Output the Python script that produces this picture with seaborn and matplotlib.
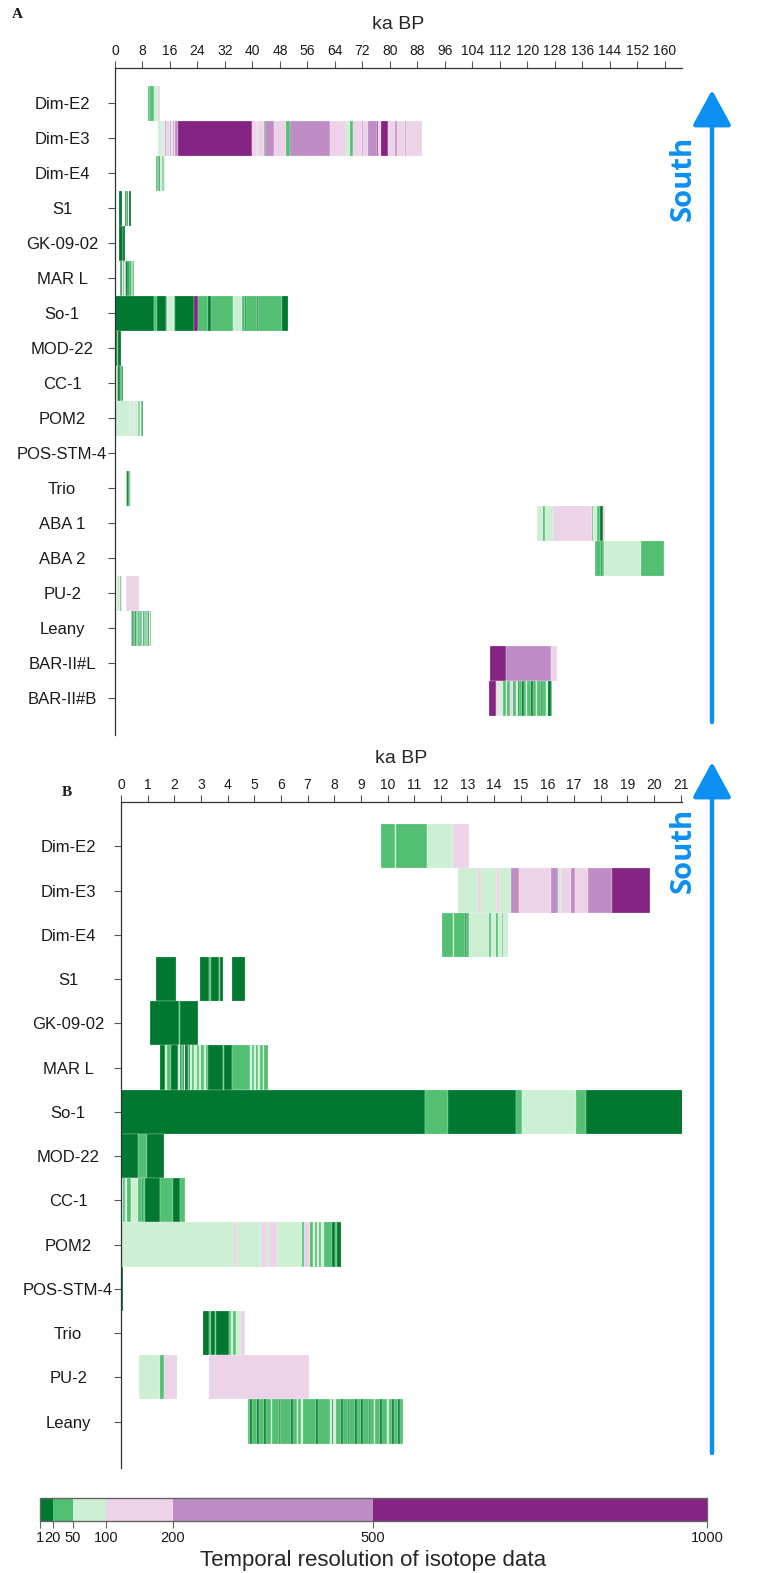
import numpy as np
import pandas as pd
import matplotlib
matplotlib.use("Agg")
import matplotlib.pyplot as plt
import matplotlib as mpl
from matplotlib import font_manager
from matplotlib.colors import ListedColormap, BoundaryNorm
from matplotlib.patches import FancyArrowPatch
import seaborn as sns

# ---------------- data ----------------
# resolution classes (years): 1-20, 20-50, 50-100, 100-200, 200-500, 500-1000
res_bounds = [1, 20, 50, 100, 200, 500, 1000]
res_colors = ["#00782F", "#52BF73", "#CDEFD4", "#EDD3E8", "#BE8DC6", "#852482"]

rows_a = ["Dim-E2", "Dim-E3", "Dim-E4", "S1", "GK-09-02", "MAR L", "So-1", "MOD-22",
          "CC-1", "POM2", "POS-STM-4", "Trio", "ABA 1", "ABA 2", "PU-2", "Leany",
          "BAR-II#L", "BAR-II#B"]
rows_b = ["Dim-E2", "Dim-E3", "Dim-E4", "S1", "GK-09-02", "MAR L", "So-1", "MOD-22",
          "CC-1", "POM2", "POS-STM-4", "Trio", "PU-2", "Leany"]

ticks_a = list(range(0, 161, 8))
ticks_b = list(range(0, 22, 1))

# panel B shows Dim-E3 only up to this age (ka)
dim_e3_b_end = 19.85

# segment edges (ka BP) and resolution class per segment (None = gap)
dim_e2_edges = [9.74, 10.29, 10.33, 11.49, 12.45, 13.05]
dim_e2_cls = [1, 2, 1, 2, 3]

dim_e3_edges = [12.63, 13.38, 13.51, 14.09, 14.22, 14.63, 14.92, 16.14, 16.40, 16.50,
                16.87, 17.03, 17.52, 18.41, 39.8, 41.2, 41.5, 43.4, 43.7, 46.4, 49.9,
                51.0, 62.7, 67.3, 68.5, 69.3, 71.9, 72.3, 73.6, 76.1, 76.6, 77.5, 79.4,
                81.6, 82.0, 84.3, 84.7, 89.4]
dim_e3_cls = [2, 3, 2, 3, 2, 4, 3, 4, 2, 3, 4, 3, 4, 5, 3, 2, 3, 1, 4, 3, 1, 4, 3, 2,
              1, 3, 4, 3, 4, 5, 3, 5, 3, 4, 3, 4, 3]

dim_e4_edges = [12.05, 12.45, 12.50, 12.90, 12.96, 13.05, 13.82, 13.88, 14.07, 14.13,
                14.28, 14.35, 14.53]
dim_e4_cls = [1, 2, 1, 0, 1, 2, 1, 2, 1, 2, 1, 2]

s1_edges = [1.30, 2.06, 2.96, 3.32, 3.36, 3.67, 3.71, 3.81, 4.18, 4.67]
s1_cls = [0, None, 0, 1, 0, 1, 0, None, 0]

gk_edges = [1.10, 2.19, 2.23, 2.90]
gk_cls = [0, 1, 0]

marl_edges = [1.47, 1.65, 1.72, 1.87, 2.15, 2.20, 2.27, 2.31, 2.37, 2.42, 2.50, 2.54,
              2.58, 2.68, 2.75, 2.85, 2.92, 3.02, 3.10, 3.20, 3.27, 3.84, 3.88, 4.18,
              4.83, 4.90, 4.98, 5.05, 5.15, 5.22, 5.32, 5.38, 5.52]
marl_cls = [0, 2, 1, 0, 2, 0, 1, 0, 2, 0, 1, 0, 2, 1, 2, 1, 2, 1, 2, 1, 0, 1, 0, 1,
            2, 1, 2, 1, 2, 1, 2, 1]

so1_edges = [0, 11.39, 12.28, 14.81, 15.06, 17.08, 17.44, 23.0, 24.1, 27.0, 27.9, 34.3,
             37.1, 37.8, 38.0, 41.3, 41.7, 48.6, 50.2]
so1_cls = [0, 1, 0, 1, 2, 1, 0, 5, 1, 0, 1, 2, 1, 0, 1, 0, 1, 0]

mod22_edges = [0, 0.62, 0.96, 1.62]
mod22_cls = [0, 1, 0]

cc1_edges = [0, 0.04, 0.09, 0.15, 0.21, 0.37, 0.62, 0.77, 0.84, 0.91, 1.48, 1.94, 2.21, 2.40]
cc1_cls = [1, 2, 1, 2, 1, 2, 1, 0, 1, 0, 1, 0, 1]

pom2_edges = [0, 4.25, 4.36, 5.24, 5.44, 5.55, 5.87, 6.78, 6.88, 7.11, 7.20, 7.28, 7.36,
              7.44, 7.52, 7.61, 7.93, 8.03, 8.10, 8.24]
pom2_cls = [2, 3, 2, 3, 2, 3, 2, 1, 3, 1, 2, 1, 2, 1, 2, 1, 0, 1, 0]

posstm_edges = [0, 0.06]
posstm_cls = [0]

trio_edges = [3.06, 3.32, 3.36, 3.52, 3.56, 4.04, 4.11, 4.19, 4.33, 4.52, 4.66]
trio_cls = [0, 1, 0, 1, 0, 1, 2, 1, 2, 3]

aba1_edges = [122.9, 124.6, 125.0, 127.5, 138.8, 139.2, 140.2, 141.2, 142.1, 142.6]
aba1_cls = [2, 1, 2, 3, 1, 2, 1, 0, 3]

aba2_edges = [139.8, 141.4, 141.8, 142.2, 153.1, 159.9]
aba2_cls = [1, 0, 1, 2, 1]

pu2_edges = [0.68, 1.47, 1.63, 2.09, 3.30, 7.06]
pu2_cls = [2, 1, 3, None, 3]

leany_edges = [4.77, 4.83, 4.92, 5.09, 5.18, 5.38, 5.44, 5.62, 5.67, 5.91, 5.98, 6.39,
               6.45, 6.59, 6.65, 6.76, 6.82, 7.31, 7.38, 7.83, 7.90, 7.97, 8.06, 8.26,
               8.32, 8.51, 8.56, 8.79, 8.86, 9.01, 9.07, 9.30, 9.36, 9.48, 9.54, 9.73,
               9.79, 9.99, 10.05, 10.16, 10.23, 10.38, 10.48, 10.59]
leany_cls = [1, 0, 1, 0, 1, 0, 1, 2, 1, 0, 1, 0, 1, 2, 1, 2, 1, 0, 1, 2, 0, 2, 1, 0,
             1, 0, 1, 0, 1, 0, 1, 0, 1, 2, 1, 0, 1, 2, 1, 0, 1, 0, 1]

barl_edges = [109.1, 113.9, 127.0, 128.5]
barl_cls = [5, 4, 3]

barb_edges = [108.7, 110.8, 111.5, 112.0, 112.4, 113.0, 113.7, 114.2, 115.0, 115.7,
              116.6, 117.3, 117.7, 118.3, 119.0, 119.6, 120.0, 121.0, 121.5, 122.4,
              122.9, 123.9, 124.4, 125.4, 125.9, 126.8, 127.3]
barb_cls = [5, 3, 2, 3, 2, 1, 2, 1, 3, 1, 2, 0, 1, 0, 1, 2, 1, 0, 1, 2, 1, 0, 1, 2, 0, 1]

core_data = {
    "Dim-E2": (dim_e2_edges, dim_e2_cls), "Dim-E3": (dim_e3_edges, dim_e3_cls),
    "Dim-E4": (dim_e4_edges, dim_e4_cls), "S1": (s1_edges, s1_cls),
    "GK-09-02": (gk_edges, gk_cls), "MAR L": (marl_edges, marl_cls),
    "So-1": (so1_edges, so1_cls), "MOD-22": (mod22_edges, mod22_cls),
    "CC-1": (cc1_edges, cc1_cls), "POM2": (pom2_edges, pom2_cls),
    "POS-STM-4": (posstm_edges, posstm_cls), "Trio": (trio_edges, trio_cls),
    "ABA 1": (aba1_edges, aba1_cls), "ABA 2": (aba2_edges, aba2_cls),
    "PU-2": (pu2_edges, pu2_cls), "Leany": (leany_edges, leany_cls),
    "BAR-II#L": (barl_edges, barl_cls), "BAR-II#B": (barb_edges, barb_cls),
}

recs = []
for core, (edges, cls) in core_data.items():
    for i, c in enumerate(cls):
        if c is None:
            continue
        recs.append(dict(core=core, start=edges[i], end=edges[i + 1], cls=c))
segs = pd.DataFrame(recs)

# ---------------- style ----------------
sns.set_theme(style="ticks")
plt.rcParams['font.family'] = ['Liberation Sans', 'DejaVu Sans']
plt.rcParams['axes.edgecolor'] = '#333333'
plt.rcParams['text.color'] = '#1a1a1a'
plt.rcParams['xtick.color'] = '#555555'
plt.rcParams['ytick.color'] = '#555555'
plt.rcParams['xtick.labelcolor'] = '#1a1a1a'
plt.rcParams['ytick.labelcolor'] = '#1a1a1a'

installed = {f.name for f in font_manager.fontManager.ttflist}
narrow = 'Liberation Sans Narrow' if 'Liberation Sans Narrow' in installed else 'Liberation Sans'
num_size = 11 if narrow == 'Liberation Sans Narrow' else 10

palette = sns.color_palette(res_colors)

W, H = 758, 1573
fig = plt.figure(figsize=(W / 100, H / 100), dpi=100)


def rect(l, t, r, b):
    return [l / W, 1 - b / H, (r - l) / W, (b - t) / H]


def draw_panel(ax, rows, xmax, ticks, clip=None):
    ypos = {r: i for i, r in enumerate(rows)}
    s = segs[segs.core.isin(rows)].copy()
    if clip:
        for core, lim in clip.items():
            m = s.core == core
            s = s[~(m & (s.start >= lim))]
            s.loc[(s.core == core) & (s.end > lim), 'end'] = lim
    ax.barh(s.core.map(ypos), s.end - s.start, left=s.start, height=1.0,
            color=[palette[c] for c in s.cls], edgecolor=(1, 1, 1, 0.45),
            linewidth=0.35)
    ax.set_xlim(0, xmax)
    ax.set_ylim(len(rows) - 1 + 1.05, -1.0)
    ax.xaxis.tick_top()
    ax.xaxis.set_label_position('top')
    ax.set_xticks(ticks)
    ax.set_xticklabels([str(t) for t in ticks], fontsize=num_size, family=narrow)
    ax.set_xlabel("ka BP", fontsize=14, labelpad=11)
    ax.set_yticks(range(len(rows)))
    ax.set_yticklabels(rows, fontsize=12)
    for lab in ax.get_yticklabels():
        lab.set_ha('center')
    ax.tick_params(axis='y', length=5, width=0.8, pad=33)
    ax.tick_params(axis='x', length=5, width=0.8, pad=2)
    for sp in ['right', 'bottom']:
        ax.spines[sp].set_visible(False)
    for sp in ['top', 'left']:
        ax.spines[sp].set_linewidth(0.9)
    ax.set_facecolor('white')


ax_a = fig.add_axes(rect(115, 68, 682, 735))
draw_panel(ax_a, rows_a, 165, ticks_a)
ax_b = fig.add_axes(rect(121, 802, 682, 1468))
draw_panel(ax_b, rows_b, 21.05, ticks_b, clip={"Dim-E3": dim_e3_b_end})

fig.text(17 / W, 1 - 14 / H, "A", family="Liberation Serif", weight="bold",
         fontsize=11, ha="center", va="center")
fig.text(67 / W, 1 - 792 / H, "B", family="Liberation Serif", weight="bold",
         fontsize=11, ha="center", va="center")

# south arrows
blue = "#0C8FF2"
for tip, tail, ty in [(90, 722, 178), (762, 1453, 850)]:
    arr = FancyArrowPatch((712 / W, 1 - tail / H), (712 / W, 1 - tip / H),
                          transform=fig.transFigure,
                          arrowstyle="-|>,head_length=22,head_width=12",
                          mutation_scale=1, lw=3.2, color=blue,
                          shrinkA=0, shrinkB=0)
    fig.add_artist(arr)
    fig.text(683 / W, 1 - ty / H, "South", rotation=90, ha="center", va="center",
             color=blue, fontsize=21, weight="bold", family="Open Sans")

# colour bar
cax = fig.add_axes(rect(40, 1498, 707, 1521))
cmap = ListedColormap(res_colors)
norm = BoundaryNorm(res_bounds, cmap.N)
cb = mpl.colorbar.ColorbarBase(cax, cmap=cmap, norm=norm, boundaries=res_bounds,
                               spacing='proportional', orientation='horizontal',
                               ticks=res_bounds)
cb.outline.set_edgecolor('#666666')
cb.outline.set_linewidth(1.0)
cax.tick_params(axis='x', length=5, width=0.8, pad=2, labelsize=num_size + 0.5,
                color='#666666')
cax.set_xticklabels([str(b) for b in res_bounds], family=narrow)
cb.set_label("Temporal resolution of isotope data", fontsize=16, labelpad=4)

fig.savefig("out.png", dpi=100)
